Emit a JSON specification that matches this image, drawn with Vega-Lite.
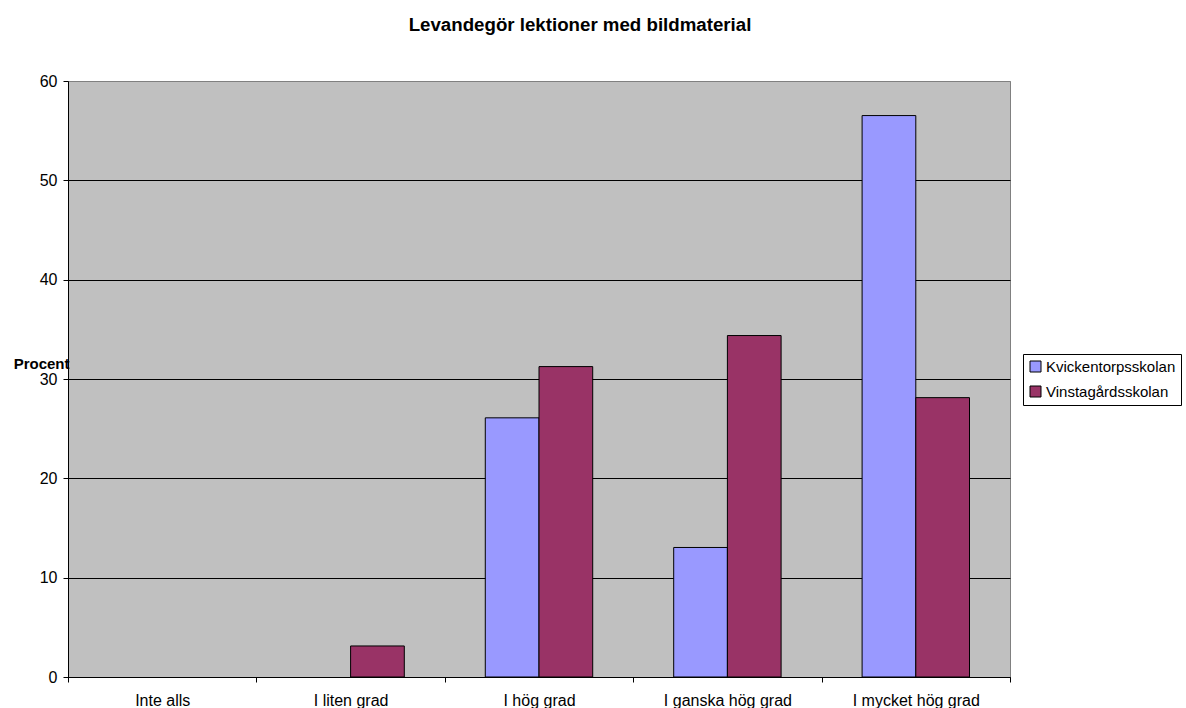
{
  "$schema": "https://vega.github.io/schema/vega-lite/v6.json",
  "width": 942,
  "height": 596,
  "autosize": {"type": "none"},
  "padding": {"left": 68, "top": 81, "right": 176, "bottom": 31},
  "background": "white",
  "config": {
    "font": "Liberation Sans",
    "view": {"fill": "#C0C0C0", "stroke": "#808080", "strokeWidth": 1}
  },
  "title": {
    "text": "Levandegör lektioner med bildmaterial",
    "fontSize": 18.7,
    "fontWeight": "bold",
    "color": "black",
    "anchor": "middle",
    "baseline": "middle",
    "offset": 29,
    "dx": 41
  },
  "data": {
    "values": [
      {"kategori": "I liten grad", "skola": "Vinstagårdsskolan", "procent": 3.125},
      {"kategori": "I hög grad", "skola": "Kvickentorpsskolan", "procent": 26.09},
      {"kategori": "I hög grad", "skola": "Vinstagårdsskolan", "procent": 31.25},
      {"kategori": "I ganska hög grad", "skola": "Kvickentorpsskolan", "procent": 13.04},
      {"kategori": "I ganska hög grad", "skola": "Vinstagårdsskolan", "procent": 34.375},
      {"kategori": "I mycket hög grad", "skola": "Kvickentorpsskolan", "procent": 56.52},
      {"kategori": "I mycket hög grad", "skola": "Vinstagårdsskolan", "procent": 28.125}
    ]
  },
  "mark": {"type": "bar", "stroke": "black", "strokeWidth": 1},
  "encoding": {
    "x": {
      "field": "kategori",
      "type": "nominal",
      "sort": ["Inte alls", "I liten grad", "I hög grad", "I ganska hög grad", "I mycket hög grad"],
      "scale": {
        "domain": ["Inte alls", "I liten grad", "I hög grad", "I ganska hög grad", "I mycket hög grad"],
        "paddingInner": 0,
        "paddingOuter": 0
      },
      "axis": {
        "title": null,
        "labelAngle": 0,
        "labelFontSize": 16,
        "labelColor": "black",
        "labelPadding": 10,
        "tickBand": "extent",
        "tickSize": 5,
        "tickColor": "black",
        "domainColor": "black",
        "grid": false
      }
    },
    "xOffset": {
      "field": "skola",
      "type": "nominal",
      "scale": {
        "domain": ["Kvickentorpsskolan", "Vinstagårdsskolan"],
        "paddingInner": 0,
        "paddingOuter": 0.754
      }
    },
    "y": {
      "field": "procent",
      "type": "quantitative",
      "scale": {"domain": [0, 60], "nice": false},
      "axis": {
        "values": [0, 10, 20, 30, 40, 50, 60],
        "title": "Procent",
        "titleAngle": 0,
        "titleFontSize": 15,
        "titleFontWeight": "bold",
        "titleColor": "black",
        "titleAlign": "right",
        "titleBaseline": "middle",
        "titleX": 1,
        "titleY": 282,
        "labelFontSize": 16,
        "labelColor": "black",
        "labelPadding": 6,
        "tickSize": 5,
        "tickColor": "black",
        "domainColor": "black",
        "grid": true,
        "gridColor": {"condition": {"test": "datum.value >= 60", "value": "#808080"}, "value": "black"},
        "gridOpacity": 1
      }
    },
    "color": {
      "field": "skola",
      "type": "nominal",
      "scale": {"domain": ["Kvickentorpsskolan", "Vinstagårdsskolan"], "range": ["#9999FF", "#993366"]},
      "legend": {
        "title": null,
        "orient": "none",
        "legendX": 955,
        "legendY": 273,
        "direction": "vertical",
        "symbolType": "square",
        "symbolSize": 121,
        "symbolStrokeColor": "black",
        "symbolStrokeWidth": 1,
        "symbolOpacity": 1,
        "labelFontSize": 15,
        "labelColor": "black",
        "labelOffset": 3,
        "rowPadding": 9,
        "padding": 5,
        "strokeColor": "black",
        "fillColor": "white"
      }
    }
  }
}
